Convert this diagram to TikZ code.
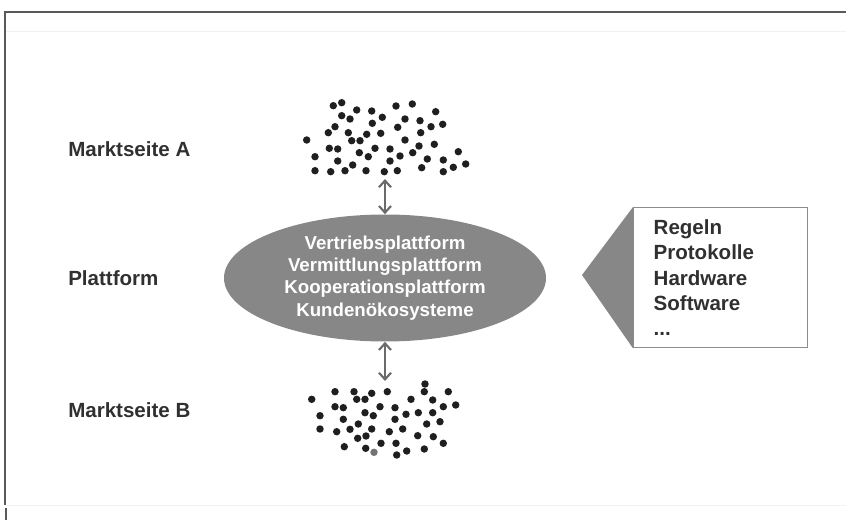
\documentclass[tikz,border=0pt]{standalone}
\usepackage{fontspec}
\setmainfont{Liberation Sans}
\usetikzlibrary{shapes.geometric,arrows.meta}
\definecolor{platgray}{HTML}{878787}
\definecolor{arrowgray}{HTML}{6A6A6A}
\definecolor{textgray}{HTML}{303030}
\definecolor{framegray}{HTML}{8C8C8C}
\tikzset{
  sidelabel/.style={anchor=west, inner sep=0pt, text=textgray,
    font=\fontsize{15.4}{18.9}\selectfont\bfseries},
  dualarrow/.style={{Straight Barb[length=5pt,width=9pt]}-{Straight Barb[length=5pt,width=9pt]}, arrowgray, line width=1.6pt},
}
\begin{document}
\begin{tikzpicture}[x=0.75pt,y=-0.75pt]
        \useasboundingbox (0,0) rectangle (846,520);
        \draw[black!65, line width=0.8pt] (846,12) -- (5,12) -- (5,505); %frame top and left
        \draw[black!65, line width=0.8pt] (6,508) -- (6,520);
        \draw[black!5] (6,31) -- (846,31);
        \draw[black!5] (6,505) -- (846,505);
        \node[sidelabel] (labelA) at (68,149) {Marktseite A};
        \node[sidelabel] (labelP) at (68,278) {Plattform};
        \node[sidelabel] (labelB) at (68,410) {Marktseite B};
        \node[ellipse, fill=platgray, minimum width=322*0.75pt, minimum height=127*0.75pt, inner sep=0pt, align=center, text=white,
              font=\fontsize{14}{16.7}\selectfont\bfseries] (platform) at (385,278)
              {Vertriebsplattform\\Vermittlungsplattform\\Kooperationsplattform\\Kundenökosysteme};
        % market side A
        \foreach \x/\y in {333.3/105.7, 341.7/102.7, 356.7/110, 371.7/111, 396/106, 412.3/104, 435.7/111.7,
                           341.7/115.7, 350/119, 382.3/117.3, 372.3/123.3, 405/119, 420/120.7, 442.7/124.3,
                           335/126.7, 328.3/132.7, 348.3/132.7, 366.7/134.3, 380.7/133.3, 397.7/127.3, 420.7/132.7, 431/126.7,
                           306.7/140, 351.7/140.7, 360/140.7, 405/140, 434.3/144.3,
                           329.3/148.3, 337.7/149, 359.3/152.7, 375/148.3, 390/149, 419/146, 458.3/151.7,
                           315/156.7, 337.7/161, 368.3/156.7, 400/156, 412.7/152.7, 427.3/159, 443.3/160, 390/161,
                           315/170.7, 330.7/171.7, 345/170.7, 352.7/165, 366/170.7, 384.3/171.7, 397.3/170.7,
                           421.7/167.7, 443.3/171.7, 453.3/167.3, 465.7/164}
            \fill[black!88] (\x,\y) circle (2.8pt);
        % market side B
        \foreach \x/\y in {425/384, 335/391.7, 354/391.7, 371.7/393.3, 387.3/391.7, 424.3/391.7, 448.3/391.7,
                           311.7/399.3, 356.7/399.3, 365/399.3, 411/399.3, 432.7/400,
                           335/406.7, 343.3/407.7, 380/406.7, 395/407.7, 443.3/406.7, 455.7/405,
                           320/415.7, 365/412.7, 373.3/415.7, 406/414.3, 418.3/412.7, 432.7/412.7,
                           343.3/419.3, 395/419.3, 358.3/424, 426.7/424, 440/421.7,
                           320/429, 336.7/431.7, 350/429.3, 371.7/429, 389.3/431.7, 402.7/429,
                           357.7/438.3, 366/436, 381/443.3, 396/443.3, 417.7/435.7, 433.3/436.7,
                           344.3/446.7, 365.7/448.3, 396.7/455, 406.7/451, 424.3/449, 443.3/443.3}
            \fill[black!88] (\x,\y) circle (2.8pt);
        \fill[black!55] (374,452.3) circle (2.8pt);
        \coordinate (sideA) at (385,179);
        \coordinate (sideB) at (385,381);
        \draw[dualarrow] (sideA) -- (platform.north);
        \draw[dualarrow] (platform.south) -- (sideB);
        % building blocks
        \node[draw=framegray, line width=1pt, fill=white, anchor=north west, minimum width=174*0.75pt, minimum height=140*0.75pt,
              inner xsep=20*0.75pt, text width=134*0.75pt, align=left, text=textgray,
              font=\fontsize{15.4}{18.9}\selectfont\bfseries] (rules) at (633,207)
              {Regeln\\Protokolle\\Hardware\\Software\\...};
        \coordinate (tip) at (582,275);
        \fill[platgray] (tip) -- (rules.north west) -- (rules.south west) -- cycle;
    \end{tikzpicture}
\end{document}
